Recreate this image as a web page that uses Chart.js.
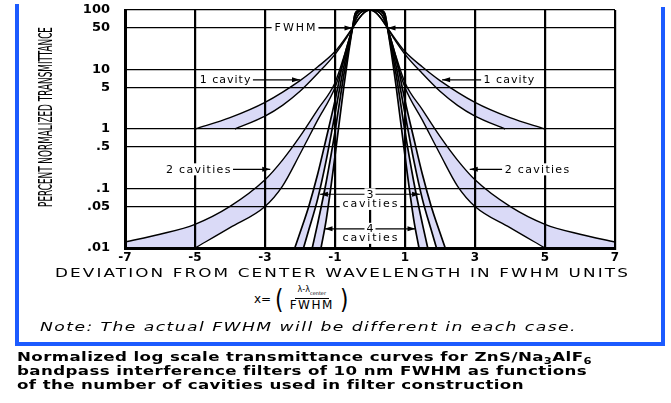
<!DOCTYPE html>
<html>
<head>
<meta charset="utf-8">
<script src="https://cdn.jsdelivr.net/npm/chart.js@4.4.1/dist/chart.umd.min.js"></script>
<style>
html, body { margin: 0; padding: 0; background: #fff; }
body { width: 671px; height: 403px; position: relative; overflow: hidden; font-family: "DejaVu Sans", sans-serif; color: #000; }
#chartBox { position: absolute; left: 0; top: 0; width: 671px; height: 268px; }
.blue { position: absolute; background: #1c5bff; }
.fit { position: absolute; white-space: nowrap; transform-origin: 0 50%; }
#yTitle { left: 45px; top: 117px; font-family: "DejaVu Sans Condensed", "Liberation Sans Narrow", "DejaVu Sans", sans-serif; font-size: 19px; line-height: 19px; transform-origin: 50% 50%; }
#xTitle { left: 55px; top: 266px; font-size: 12px; line-height: 14px; letter-spacing: 1.5px; }
#formula { position: absolute; left: 254px; top: 285px; display: flex; align-items: center; font-size: 12px; }
#formula .paren { font-size: 27px; line-height: 27px; margin: 0 3px; display: inline-block; transform: scaleX(0.8); }
#formula .frac { display: inline-flex; flex-direction: column; align-items: center; margin: 0 2px; }
#formula .num { font-size: 8px; line-height: 9px; border-bottom: 1px solid #000; padding: 0 3px; }
#formula .num sub { font-size: 5px; }
#formula .den { font-size: 12px; line-height: 13px; letter-spacing: 1.5px; }
#note { left: 40px; top: 320px; font-size: 12px; line-height: 14px; font-style: italic; letter-spacing: 1px; }
.cap { left: 17px; font-size: 13px; line-height: 14px; font-weight: bold; letter-spacing: 0.3px; }
.cap sub { font-size: 9px; vertical-align: -3px; line-height: 0; }
</style>
</head>
<body>
<div id="chartBox"><canvas id="curves" width="671" height="268"></canvas></div>
<div class="blue" style="left:15px; top:4px; width:4px; height:342px;"></div>
<div class="blue" style="left:661px; top:7px; width:4px; height:339px;"></div>
<div class="blue" style="left:15px; top:342px; width:650px; height:4px;"></div>
<div id="yTitle" class="fit">PERCENT NORMALIZED TRANSMITTANCE</div>
<div id="xTitle" class="fit">DEVIATION FROM CENTER WAVELENGTH IN FWHM UNITS</div>
<div id="formula"><span>x=</span><span class="paren">(</span><span class="frac"><span class="num">λ-λ<sub>center</sub></span><span class="den">FWHM</span></span><span class="paren">)</span></div>
<div id="note" class="fit">Note: The actual FWHM will be different in each case.</div>
<div id="cap1" class="fit cap" style="top:350px;">Normalized log scale transmittance curves for ZnS/Na<sub>3</sub>AlF<sub>6</sub></div>
<div id="cap2" class="fit cap" style="top:364px;">bandpass interference filters of 10 nm FWHM as functions</div>
<div id="cap3" class="fit cap" style="top:378px;">of the number of cavities used in filter construction</div>
<script>
var xTicks = [-7, -5, -3, -1, 0, 1, 3, 5, 7];
var yTicks = [0.01, 0.05, 0.1, 0.5, 1, 5, 10, 50, 100];
var yTickLabels = ['.01', '.05', '.1', '.5', '1', '5', '10', '50', '100'];

// 1 cavity band
var cav1OuterX = [-5, -4, -3, -2, -1.5, -1, -0.7, -0.5, -0.3, -0.15, 0, 0.15, 0.3, 0.5, 0.7, 1, 1.5, 2, 3, 4, 5];
var cav1OuterY = [1, 1.55, 2.8, 6.5, 11, 20, 34, 50, 74, 92, 100, 92, 74, 50, 34, 20, 11, 6.5, 2.8, 1.55, 1];
var cav1InnerX = [-3.86, -3, -2.5, -2, -1.5, -1, -0.7, -0.5, -0.3, -0.15, 0, 0.15, 0.3, 0.5, 0.7, 1, 1.5, 2, 2.5, 3, 3.86];
var cav1InnerY = [1, 1.65, 2.5, 4.3, 8.5, 18, 32, 50, 74, 92, 100, 92, 74, 50, 32, 18, 8.5, 4.3, 2.5, 1.65, 1];

// 2 cavities band
var cav2OuterX = [-7, -6, -5, -4, -3, -2.5, -2, -1.5, -1, -0.7, -0.5, -0.35, -0.2, 0, 0.2, 0.35, 0.5, 0.7, 1, 1.5, 2, 2.5, 3, 4, 5, 6, 7];
var cav2OuterY = [0.0126, 0.017, 0.025, 0.05, 0.14, 0.3, 0.75, 2.1, 6, 20, 50, 80, 96, 100, 96, 80, 50, 20, 6, 2.1, 0.75, 0.3, 0.14, 0.05, 0.025, 0.017, 0.0126];
var cav2InnerX = [-5, -4, -3, -2.5, -2, -1.5, -1, -0.7, -0.5, -0.35, -0.2, 0, 0.2, 0.35, 0.5, 0.7, 1, 1.5, 2, 2.5, 3, 4, 5];
var cav2InnerY = [0.01, 0.022, 0.05, 0.11, 0.38, 1.4, 5, 18, 50, 80, 96, 100, 96, 80, 50, 18, 5, 1.4, 0.38, 0.11, 0.05, 0.022, 0.01];

// 3 cavities band
var cav3OuterX = [-2.15, -2, -1.75, -1.5, -1.25, -1, -0.75, -0.5, -0.4, -0.25, 0, 0.25, 0.4, 0.5, 0.75, 1, 1.25, 1.5, 1.75, 2, 2.15];
var cav3OuterY = [0.01, 0.018, 0.05, 0.17, 0.7, 3, 15, 50, 82, 98, 100, 98, 82, 50, 15, 3, 0.7, 0.17, 0.05, 0.018, 0.01];
var cav3InnerX = [-1.9, -1.75, -1.5, -1.25, -1, -0.75, -0.5, -0.4, -0.25, 0, 0.25, 0.4, 0.5, 0.75, 1, 1.25, 1.5, 1.75, 1.9];
var cav3InnerY = [0.01, 0.02, 0.065, 0.3, 1.8, 11, 50, 82, 98, 100, 98, 82, 50, 11, 1.8, 0.3, 0.065, 0.02, 0.01];

// 4 cavities band
var cav4OuterX = [-1.65, -1.5, -1.25, -1, -0.75, -0.5, -0.42, -0.3, 0, 0.3, 0.42, 0.5, 0.75, 1, 1.25, 1.5, 1.65];
var cav4OuterY = [0.01, 0.025, 0.13, 0.9, 8, 50, 88, 99, 100, 99, 88, 50, 8, 0.9, 0.13, 0.025, 0.01];
var cav4InnerX = [-1.4, -1.25, -1, -0.75, -0.5, -0.42, -0.3, 0, 0.3, 0.42, 0.5, 0.75, 1, 1.25, 1.4];
var cav4InnerY = [0.01, 0.03, 0.35, 5, 50, 88, 99, 100, 99, 88, 50, 5, 0.35, 0.03, 0.01];

// label text, label centre and arrow tip, in data units
var sideNotes = [
	{ text: 'FWHM', x: -2.14, y: 50, tipX: -0.5, spacing: 2 },
	{ text: '', x: 1, y: 50, tipX: 0.5 },
	{ text: '1 cavity', x: -4.14, y: 6.7, tipX: -2.0, spacing: 1 },
	{ text: '1 cavity', x: 3.97, y: 6.7, tipX: 2.06, spacing: 1 },
	{ text: '2 cavities', x: -4.91, y: 0.21, tipX: -2.85, spacing: 1.3 },
	{ text: '2 cavities', x: 4.77, y: 0.21, tipX: 2.85, spacing: 1.3 }
];
var centerNotes = [
	{ text: '3', y: 0.08, subY: 0.055, tipX: 1.43 },
	{ text: '4', y: 0.021, subY: 0.0148, tipX: 1.3 }
];

var bandFill = '#dadaf7';

function pts(xs, ys) {
	return xs.map(function(v, i) {
		return { x: v, y: ys[i] };
	});
}

// each band: outer curve paints lavender down to its floor,
// inner curve paints white back over the part below it
function curve(xs, ys, colour, floor, width) {
	return {
		data: pts(xs, ys),
		borderColor: '#000',
		borderWidth: width,
		backgroundColor: colour,
		pointRadius: 0,
		cubicInterpolationMode: 'monotone',
		fill: floor
	};
}

function boxText(ctx, text, cx, cy, spacing) {
	ctx.letterSpacing = spacing + 'px';
	var w = ctx.measureText(text).width;
	ctx.fillStyle = '#fff';
	ctx.fillRect(cx - w / 2 - 2, cy - 6, w + 4, 12);
	ctx.fillStyle = '#000';
	ctx.fillText(text, cx + spacing / 2, cy + 0.5);
	ctx.letterSpacing = '0px';
	return { left: cx - w / 2 - 2, right: cx + w / 2 + 2 };
}

function arrow(ctx, x1, y1, x2, y2) {
	var dir = x2 > x1 ? 1 : -1;
	ctx.lineWidth = 1.2;
	ctx.beginPath();
	ctx.moveTo(x1, y1);
	ctx.lineTo(x2, y2);
	ctx.stroke();
	ctx.beginPath();
	ctx.moveTo(x2, y2);
	ctx.lineTo(x2 - dir * 8, y2 - 2.5);
	ctx.lineTo(x2 - dir * 8, y2 + 2.5);
	ctx.closePath();
	ctx.fill();
}

var annotate = {
	id: 'annotate',
	afterDatasetsDraw: function(chart) {
		var ctx = chart.ctx;
		var xs = chart.scales.x;
		var ys = chart.scales.y;
		ctx.save();
		ctx.font = '11px "DejaVu Sans"';
		ctx.textAlign = 'center';
		ctx.textBaseline = 'middle';
		ctx.strokeStyle = '#000';
		ctx.fillStyle = '#000';

		sideNotes.forEach(function(n) {
			var cx = xs.getPixelForValue(n.x);
			var cy = ys.getPixelForValue(n.y);
			var tip = xs.getPixelForValue(n.tipX);
			var start = cx;
			if (n.text) {
				var b = boxText(ctx, n.text, cx, cy, n.spacing);
				start = tip > cx ? b.right : b.left;
			}
			ctx.fillStyle = '#000';
			arrow(ctx, start, cy, tip, cy);
		});

		centerNotes.forEach(function(n) {
			var c0 = xs.getPixelForValue(0);
			var cy = ys.getPixelForValue(n.y);
			arrow(ctx, c0, cy, xs.getPixelForValue(-n.tipX), cy);
			arrow(ctx, c0, cy, xs.getPixelForValue(n.tipX), cy);
			boxText(ctx, n.text, c0, cy, 0);
			boxText(ctx, 'cavities', c0, ys.getPixelForValue(n.subY), 1.8);
		});
		ctx.restore();
	}
};

var tickFont = { family: 'DejaVu Sans', size: 12, weight: 'bold' };

// filler paints from the last dataset to the first, so the list is reversed
var bands = [
	curve(cav1OuterX, cav1OuterY, bandFill, { value: 1 }, 1.4),
	curve(cav1InnerX, cav1InnerY, '#fff', { value: 1 }, 1.4),
	curve(cav2OuterX, cav2OuterY, bandFill, 'start', 1.4),
	curve(cav2InnerX, cav2InnerY, '#fff', 'start', 1.4),
	curve(cav3OuterX, cav3OuterY, bandFill, 'start', 1.7),
	curve(cav3InnerX, cav3InnerY, '#fff', 'start', 1.7),
	curve(cav4OuterX, cav4OuterY, bandFill, 'start', 1.7),
	curve(cav4InnerX, cav4InnerY, '#fff', 'start', 1.7)
].reverse();

new Chart(document.getElementById('curves'), {
	type: 'line',
	data: { datasets: bands },
	options: {
		responsive: false,
		devicePixelRatio: 1,
		animation: false,
		layout: { padding: { left: 0, top: 10, right: 56, bottom: 0 } },
		plugins: {
			legend: { display: false },
			tooltip: { enabled: false },
			filler: { drawTime: 'beforeDraw' }
		},
		scales: {
			x: {
				type: 'linear',
				min: -7,
				max: 7,
				afterBuildTicks: function(s) {
					s.ticks = xTicks.map(function(v) { return { value: v }; });
				},
				afterFit: function(s) { s.height = 20; },
				ticks: {
					autoSkip: false,
					maxRotation: 0,
					padding: 3,
					color: '#000',
					font: tickFont,
					callback: function(v) { return v === 0 ? '' : String(v); }
				},
				grid: { color: '#000', lineWidth: 2.2, drawTicks: false },
				border: { color: '#000', width: 3 }
			},
			y: {
				type: 'logarithmic',
				min: 0.01,
				max: 100,
				afterBuildTicks: function(s) {
					s.ticks = yTicks.map(function(v) { return { value: v }; });
				},
				afterFit: function(s) {
					s.width = 125;
					s.paddingTop = 0;
					s.paddingBottom = 0;
				},
				ticks: {
					autoSkip: false,
					padding: 15,
					color: '#000',
					font: { family: 'DejaVu Sans', size: 13, weight: 'bold' },
					callback: function(v, i) { return yTickLabels[i]; }
				},
				grid: { color: '#000', lineWidth: 1.3, drawTicks: false },
				border: { color: '#000', width: 3 }
			}
		}
	},
	plugins: [annotate]
});

// stretch the plain text blocks to the widths they take in the figure
function stretch(id, width) {
	var el = document.getElementById(id);
	var w = el.getBoundingClientRect().width;
	var k = width / w;
	el.style.transform = 'scale(' + k.toFixed(3) + ', 1)';
	return k;
}

stretch('xTitle', 575);
stretch('note', 537);
var capScale = stretch('cap1', 575);
document.getElementById('cap2').style.transform = 'scale(' + capScale.toFixed(3) + ', 1)';
document.getElementById('cap3').style.transform = 'scale(' + capScale.toFixed(3) + ', 1)';

var yTitle = document.getElementById('yTitle');
var yw = yTitle.getBoundingClientRect().width;
yTitle.style.transform = 'translate(-50%, -50%) rotate(-90deg) scale(' + (180 / yw).toFixed(3) + ', 1)';
</script>
</body>
</html>
